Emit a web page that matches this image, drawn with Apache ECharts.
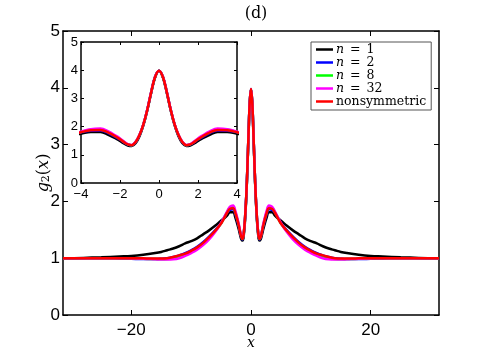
<!DOCTYPE html>
<html>
<head>
<meta charset="utf-8">
<script src="https://cdn.jsdelivr.net/npm/echarts@6/dist/echarts.min.js"></script>
<style>
  html, body { margin: 0; padding: 0; background: #fff; }
  #chart { width: 485px; height: 355px; }
</style>
</head>
<body>
<div id="chart"></div>
<script>
// x positions of the sampled curve points
var xs = [-31.4, -28, -25, -22, -20, -18, -16, -15, -14, -13, -12, -11, -10, -9, -8, -7, -6, -5, -4.5, -4,
  -3.5, -3, -2.6, -2.2, -2, -1.8, -1.6, -1.4, -1.2, -1, -0.8, -0.6, -0.4, -0.2, 0,
  0.2, 0.4, 0.6, 0.8, 1, 1.2, 1.4, 1.6, 1.8, 2, 2.2, 2.6, 3, 3.5,
  4, 4.5, 5, 6, 7, 8, 9, 10, 11, 12, 13, 14, 15, 16, 18, 20, 22, 25, 28, 31.4]

var n1 = [1.0, 1.005, 1.015, 1.03, 1.04, 1.06, 1.09, 1.11, 1.14, 1.17, 1.21, 1.26, 1.30, 1.35, 1.42, 1.49, 1.57, 1.66, 1.70, 1.75,
  1.81, 1.81, 1.71, 1.57, 1.49, 1.40, 1.33, 1.31, 1.41, 1.66, 2.05, 2.58, 3.20, 3.75, 3.98,
  3.75, 3.20, 2.58, 2.05, 1.66, 1.41, 1.31, 1.33, 1.40, 1.49, 1.57, 1.71, 1.81, 1.81,
  1.75, 1.70, 1.66, 1.57, 1.49, 1.42, 1.35, 1.30, 1.26, 1.21, 1.17, 1.14, 1.11, 1.09, 1.06, 1.04, 1.03, 1.015, 1.005, 1.0]

var n2 = [1.0, 1.0, 1.0, 0.995, 0.99, 0.985, 0.985, 0.99, 1.0, 1.02, 1.05, 1.09, 1.14, 1.20, 1.28, 1.38, 1.49, 1.62, 1.71, 1.80,
  1.85, 1.86, 1.77, 1.62, 1.54, 1.44, 1.36, 1.33, 1.44, 1.69, 2.07, 2.60, 3.22, 3.76, 3.98,
  3.76, 3.22, 2.60, 2.07, 1.69, 1.44, 1.33, 1.36, 1.44, 1.54, 1.62, 1.77, 1.86, 1.85,
  1.80, 1.71, 1.62, 1.49, 1.38, 1.28, 1.20, 1.14, 1.09, 1.05, 1.02, 1.0, 0.99, 0.985, 0.985, 0.99, 0.995, 1.0, 1.0, 1.0]

var n8 = [1.0, 1.0, 1.0, 1.0, 0.995, 0.99, 0.985, 0.98, 0.985, 1.0, 1.02, 1.06, 1.11, 1.17, 1.25, 1.35, 1.47, 1.61, 1.71, 1.81,
  1.89, 1.90, 1.80, 1.65, 1.56, 1.46, 1.37, 1.34, 1.45, 1.70, 2.08, 2.60, 3.22, 3.76, 3.98,
  3.76, 3.22, 2.60, 2.08, 1.70, 1.45, 1.34, 1.37, 1.46, 1.56, 1.65, 1.80, 1.90, 1.89,
  1.81, 1.71, 1.61, 1.47, 1.35, 1.25, 1.17, 1.11, 1.06, 1.02, 1.0, 0.985, 0.98, 0.985, 0.99, 0.995, 1.0, 1.0, 1.0, 1.0]

var n32 = [1.0, 1.0, 1.0, 1.0, 0.995, 0.99, 0.98, 0.975, 0.975, 0.98, 1.0, 1.04, 1.09, 1.15, 1.23, 1.33, 1.46, 1.62, 1.72, 1.82,
  1.91, 1.93, 1.83, 1.67, 1.58, 1.47, 1.38, 1.35, 1.46, 1.71, 2.09, 2.61, 3.23, 3.77, 3.98,
  3.77, 3.23, 2.61, 2.09, 1.71, 1.46, 1.35, 1.38, 1.47, 1.58, 1.67, 1.83, 1.93, 1.91,
  1.82, 1.72, 1.62, 1.46, 1.33, 1.23, 1.15, 1.09, 1.04, 1.0, 0.98, 0.975, 0.975, 0.98, 0.99, 0.995, 1.0, 1.0, 1.0, 1.0]

var nonsym = [1.0, 1.0, 1.0, 1.0, 1.0, 0.997, 0.995, 0.995, 1.0, 1.02, 1.05, 1.08, 1.13, 1.19, 1.27, 1.37, 1.48, 1.61, 1.70, 1.80,
  1.87, 1.88, 1.79, 1.64, 1.55, 1.45, 1.37, 1.34, 1.45, 1.70, 2.08, 2.60, 3.22, 3.76, 3.98,
  3.76, 3.22, 2.60, 2.08, 1.70, 1.45, 1.34, 1.37, 1.45, 1.55, 1.64, 1.79, 1.88, 1.87,
  1.80, 1.70, 1.61, 1.48, 1.37, 1.27, 1.19, 1.13, 1.08, 1.05, 1.02, 1.0, 0.995, 0.995, 0.997, 1.0, 1.0, 1.0, 1.0, 1.0]

var seriesNames = ['n = 1', 'n = 2', 'n = 8', 'n = 32', 'nonsymmetric']
var seriesColors = ['#000000', '#0000ff', '#00ff00', '#ff00ff', '#ff0000']
var seriesValues = [n1, n2, n8, n32, nonsym]

var mainXTicks = [-20, 0, 20]
var insetXTicks = [-4, -2, 0, 2, 4]

var sansFont = 'Liberation Sans'
var serifFont = 'DejaVu Serif'

function minus(v) {
  return String(v).replace('-', '\u2212')
}

function pairs(ys) {
  return xs.map(function (x, i) { return [x, ys[i]] })
}

function makeAxis(opts) {
  // boxed, matlab-like axis with inner ticks
  var ax = {
    type: 'value',
    gridIndex: opts.grid,
    position: opts.position,
    min: opts.min,
    max: opts.max,
    axisLine: { show: true, onZero: false, lineStyle: { color: '#000', width: 1.5 } },
    axisTick: { show: true, inside: true, length: opts.tickLen, lineStyle: { color: '#000', width: 1 } },
    splitLine: { show: false },
    axisLabel: {
      show: !!opts.labels,
      color: '#000',
      fontFamily: sansFont,
      fontSize: opts.fontSize,
      margin: opts.margin,
      formatter: minus
    }
  }
  if (opts.ticks) {
    ax.axisTick.customValues = opts.ticks
    ax.axisLabel.customValues = opts.ticks
  } else {
    ax.interval = 1
  }
  return ax
}

var chart = echarts.init(document.getElementById('chart'))

var series = []
seriesValues.forEach(function (ys, i) {
  [0, 1].forEach(function (g) {
    series.push({
      name: seriesNames[i],
      type: 'line',
      xAxisIndex: g * 2,
      yAxisIndex: g * 2,
      data: pairs(ys),
      showSymbol: false,
      smooth: 0.4,
      clip: true,
      z: 2 + i + g * 10,
      lineStyle: { color: seriesColors[i], width: 2.5 },
      itemStyle: { color: seriesColors[i] }
    })
  })
})

chart.setOption({
  animation: false,
  backgroundColor: '#fff',
  title: {
    text: '(d)',
    left: 251,
    textAlign: 'center',
    top: 1,
    textStyle: { fontFamily: serifFont, fontWeight: 'normal', fontSize: 16, color: '#000' }
  },
  legend: {
    data: seriesNames,
    orient: 'vertical',
    left: 311,
    top: 42,
    width: 120,
    padding: [1, 5, 2, 5],
    itemGap: 0,
    itemWidth: 17,
    itemHeight: 2.5,
    icon: 'rect',
    backgroundColor: '#fff',
    borderColor: '#555',
    borderWidth: 1,
    z: 20,
    formatter: function (name) {
      if (name.indexOf('n = ') === 0) return '{i|n}{e|=}' + name.slice(4)
      return name
    },
    textStyle: {
      fontFamily: serifFont,
      fontSize: 12.5,
      lineHeight: 12.6,
      color: '#000',
      padding: [0, 0, 0, -2],
      rich: {
        i: { fontFamily: serifFont, fontStyle: 'italic', fontSize: 12.5 },
        e: { fontFamily: serifFont, fontSize: 12.5, padding: [0, 6, 0, 6] }
      }
    }
  },
  grid: [
    { left: 63, top: 31, width: 376, height: 284, show: false, outerBoundsMode: 'none', containLabel: false },
    { left: 81, top: 42, width: 156, height: 141, show: true, backgroundColor: '#fff', borderWidth: 0, z: 10, outerBoundsMode: 'none', containLabel: false }
  ],
  xAxis: [
    Object.assign(makeAxis({ grid: 0, position: 'bottom', min: -31.4, max: 31.4, ticks: mainXTicks, labels: true, fontSize: 17, margin: 7, tickLen: 5 }), {
      name: 'x',
      nameLocation: 'middle',
      nameGap: 21,
      nameMoveOverlap: false,
      nameTextStyle: { fontFamily: serifFont, fontStyle: 'italic', fontSize: 14, color: '#000' }
    }),
    makeAxis({ grid: 0, position: 'top', min: -31.4, max: 31.4, ticks: mainXTicks, labels: false, tickLen: 5 }),
    Object.assign(makeAxis({ grid: 1, position: 'bottom', min: -4, max: 4, ticks: insetXTicks, labels: true, fontSize: 13, margin: 5, tickLen: 3 }), { z: 11 }),
    Object.assign(makeAxis({ grid: 1, position: 'top', min: -4, max: 4, ticks: insetXTicks, labels: false, tickLen: 3 }), { z: 11 })
  ],
  yAxis: [
    Object.assign(makeAxis({ grid: 0, position: 'left', min: 0, max: 5, labels: true, fontSize: 17, margin: 3, tickLen: 5 }), {
      name: '{i|g}{s|2}{n|(}{i|x}{n|)}',
      nameLocation: 'middle',
      nameRotate: 90,
      nameGap: 11,
      nameMoveOverlap: false,
      nameTextStyle: {
        color: '#000',
        rich: {
          i: { fontFamily: serifFont, fontStyle: 'italic', fontSize: 16, color: '#000' },
          s: { fontFamily: serifFont, fontSize: 11, color: '#000', verticalAlign: 'bottom', padding: [6, 0, 0, 0] },
          n: { fontFamily: serifFont, fontSize: 16, color: '#000' }
        }
      }
    }),
    makeAxis({ grid: 0, position: 'right', min: 0, max: 5, labels: false, tickLen: 5 }),
    Object.assign(makeAxis({ grid: 1, position: 'left', min: 0, max: 5, labels: true, fontSize: 13, margin: 3, tickLen: 3 }), { z: 11 }),
    Object.assign(makeAxis({ grid: 1, position: 'right', min: 0, max: 5, labels: false, tickLen: 3 }), { z: 11 })
  ],
  series: series
})
</script>
</body>
</html>
